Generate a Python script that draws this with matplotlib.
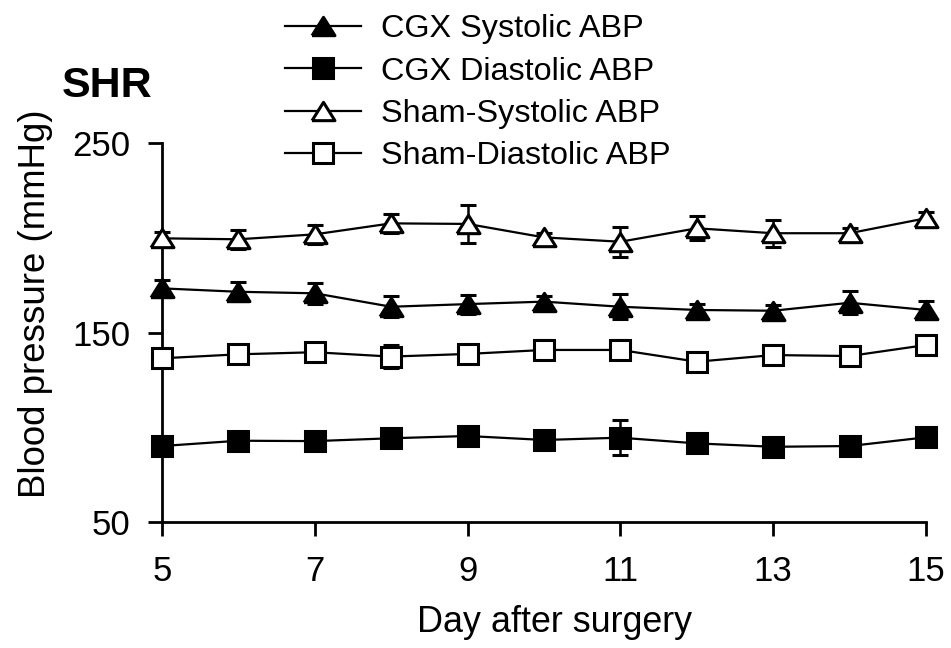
import numpy as np
import matplotlib
matplotlib.use("Agg")
import matplotlib.pyplot as plt
from matplotlib.lines import Line2D

plt.rcParams["font.family"] = ["Liberation Sans", "DejaVu Sans"]

# ── data ────────────────────────────────────────────────────
days = [5, 6, 7, 8, 9, 10, 11, 12, 13, 14, 15]

cgx_sys = [173.3, 171.5, 170.7, 163.6, 165.0, 166.3, 163.6, 161.9, 161.5, 165.7, 161.9]
cgx_sys_err = [4.3, 5.0, 5.5, 5.5, 5.0, 3.0, 6.6, 3.0, 3.0, 6.0, 4.5]

cgx_dia = [90.1, 92.9, 92.7, 94.2, 95.4, 93.3, 94.5, 91.5, 89.7, 90.1, 94.7]
cgx_dia_err = [3.0, 3.0, 4.5, 3.5, 3.0, 3.5, 9.2, 3.0, 3.0, 3.0, 3.0]

sham_sys = [199.7, 199.2, 201.8, 207.6, 207.3, 200.2, 197.9, 205.0, 202.4, 202.4, 210.3]
sham_sys_err = [3.5, 5.0, 5.0, 5.0, 10.0, 2.5, 8.0, 6.4, 7.1, 2.5, 3.5]

sham_dia = [136.4, 138.5, 139.6, 137.3, 138.7, 140.8, 140.8, 134.6, 138.1, 137.6, 143.4]
sham_dia_err = [3.0, 3.0, 3.0, 6.0, 3.0, 5.0, 5.0, 3.0, 3.0, 3.0, 3.0]

labels = ["CGX Systolic ABP", "CGX Diastolic ABP",
          "Sham-Systolic ABP", "Sham-Diastolic ABP"]

# slightly flattened, closed triangle
tri = [(-1, -0.8), (1, -0.8), (0, 0.8), (-1, -0.8)]

fig = plt.figure(figsize=(9.51, 6.48), dpi=100)
ax = fig.add_axes([0.1703, 0.1944, 0.8034, 0.5849])

series = [
    (cgx_sys, cgx_sys_err, tri, "black", 16.5),
    (cgx_dia, cgx_dia_err, "s", "black", 14.5),
    (sham_sys, sham_sys_err, tri, "white", 16.5),
    (sham_dia, sham_dia_err, "s", "white", 14.5),
]

handles = []
for vals, err, mk, fc, ms in series:
    c = ax.errorbar(days, vals, yerr=err, color="black", lw=1.6,
                    marker=mk, ms=ms, mfc=fc, mec="black", mew=2.2,
                    capsize=6, capthick=1.8, elinewidth=1.8,
                    clip_on=False, zorder=3)
    for art in [c[0], *c[1], *c[2]]:
        art.set_clip_on(False)
    handles.append(Line2D([], [], color="black", lw=1.6, marker=mk, ms=ms,
                          mfc=fc, mec="black", mew=2.2))

ax.set_xlim(5, 15)
ax.set_ylim(50, 250)
ax.set_xticks([5, 7, 9, 11, 13, 15])
ax.set_yticks([50, 150, 250])

for side in ["top", "right"]:
    ax.spines[side].set_visible(False)
for side in ["left", "bottom"]:
    ax.spines[side].set_linewidth(2)

ax.tick_params(axis="both", direction="out", length=10, width=2,
               labelsize=25)
ax.tick_params(axis="x", pad=14)
ax.tick_params(axis="y", pad=13)

ax.set_xlabel("Day after surgery", fontsize=25.8)
ax.set_ylabel("Blood pressure (mmHg)", fontsize=26.4)
ax.xaxis.set_label_coords(0.514, -0.290)
ax.yaxis.set_label_coords(-0.166, 0.575)
ax.xaxis.label.set_va("baseline")
ax.yaxis.label.set_va("center")

fig.text(62 / 951, 1 - 97 / 648, "SHR", fontsize=31, fontweight="bold",
         va="baseline", ha="left")

fig.legend(handles, labels, loc="upper left",
           bbox_to_anchor=(285 / 951, 0.978), frameon=False,
           fontsize=23.3, handlelength=2.35, handletextpad=0.63,
           labelspacing=0.38, borderpad=0, borderaxespad=0)

fig.savefig("out.png", dpi=100)
